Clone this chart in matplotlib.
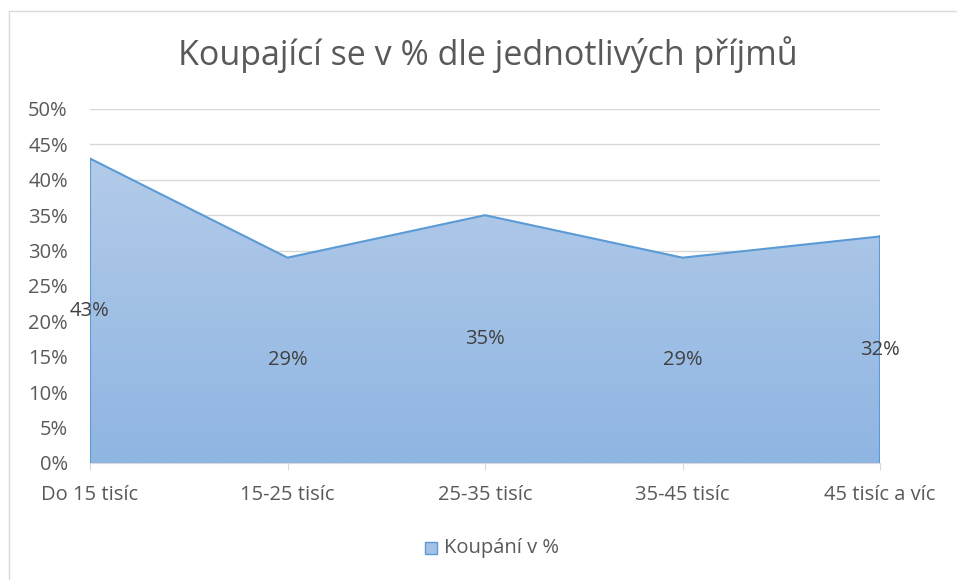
import matplotlib
matplotlib.use("Agg")
import matplotlib.pyplot as plt
import numpy as np
from matplotlib.patches import Rectangle, Polygon
from matplotlib.lines import Line2D
from matplotlib.ticker import FuncFormatter, MultipleLocator

categories = ["Do 15 tisíc", "15-25 tisíc", "25-35 tisíc", "35-45 tisíc", "45 tisíc a víc"]
values = [0.43, 0.29, 0.35, 0.29, 0.32]
labels = ["43%", "29%", "35%", "29%", "32%"]
title = "Koupající se v % dle jednotlivých příjmů"
series_name = "Koupání v %"

plt.rcParams['font.family'] = ['Open Sans', 'DejaVu Sans']
W, H = 957, 580
fig = plt.figure(figsize=(W / 100, H / 100), dpi=100)
fig.patch.set_facecolor("white")

# chart border (only top and left visible, cropped elsewhere)
fig.lines.append(Line2D([8.5 / W, 8.5 / W, 1.0], [0.0, 1 - 10.5 / H, 1 - 10.5 / H],
                        transform=fig.transFigure, color="#d9d9d9", linewidth=1))

ax = fig.add_axes([90 / W, 1 - 463 / H, (880 - 90) / W, (463 - 109) / H])
x = np.arange(len(categories))
ax.set_xlim(x[0], x[-1])
ax.set_ylim(0, 0.5)

# gradient fill clipped to area polygon
verts = [(x[0], 0)] + list(zip(x, values)) + [(x[-1], 0)]
poly = Polygon(verts, closed=True, facecolor="none", edgecolor="none")
ax.add_patch(poly)
grad = np.linspace(0, 1, 256).reshape(-1, 1)
c_top = np.array([0xb3, 0xcb, 0xe9]) / 255
c_bot = np.array([0x8f, 0xb5, 0xe2]) / 255
img = c_bot[None, None, :] * (1 - grad[..., None]) + c_top[None, None, :] * grad[..., None]
img = img[::-1]
im = ax.imshow(img, extent=[x[0], x[-1], 0, max(values)], aspect="auto", zorder=2, origin="upper")
im.set_clip_path(poly)
ax.plot(x, values, color="#5b9bd5", linewidth=1.5, zorder=3, solid_joinstyle="miter")
ax.plot([x[0], x[0]], [0, values[0]], color="#5b9bd5", linewidth=1.5, zorder=3)
ax.plot([x[-1], x[-1]], [0, values[-1]], color="#5b9bd5", linewidth=1.5, zorder=3)

for xi, v, lab in zip(x, values, labels):
    ax.text(xi, v / 2, lab, ha="center", va="center", fontsize=14.5, color="#404040", zorder=4)

ax.yaxis.set_major_locator(MultipleLocator(0.05))
ax.yaxis.set_major_formatter(FuncFormatter(lambda v, p: f"{round(v * 100)}%"))
ax.grid(axis="y", color="#d9d9d9", linewidth=1, zorder=0)
ax.set_axisbelow(True)
ax.set_xticks(x)
ax.set_xticklabels(categories)
for s in ["top", "right", "left"]:
    ax.spines[s].set_visible(False)
ax.spines["bottom"].set_color("#d9d9d9")
ax.spines["bottom"].set_zorder(1)
ax.tick_params(axis="y", length=0, labelsize=14.5, labelcolor="#595959", pad=16)
ax.tick_params(axis="x", length=5, color="#d9d9d9", labelsize=14.5, labelcolor="#595959", pad=11)

fig.text(488 / W, 1 - 55 / H, title, ha="center", va="center", fontsize=24.5, color="#595959")

# legend
fig.patches.append(Rectangle((425 / W, 1 - 554 / H), 12 / W, 12 / H, transform=fig.transFigure,
                             facecolor="#a5c0e6", edgecolor="#5b9bd5", linewidth=1))
fig.text(444 / W, 1 - 548 / H, series_name, ha="left", va="center", fontsize=14.5, color="#595959")

fig.savefig("out.png", dpi=100)
